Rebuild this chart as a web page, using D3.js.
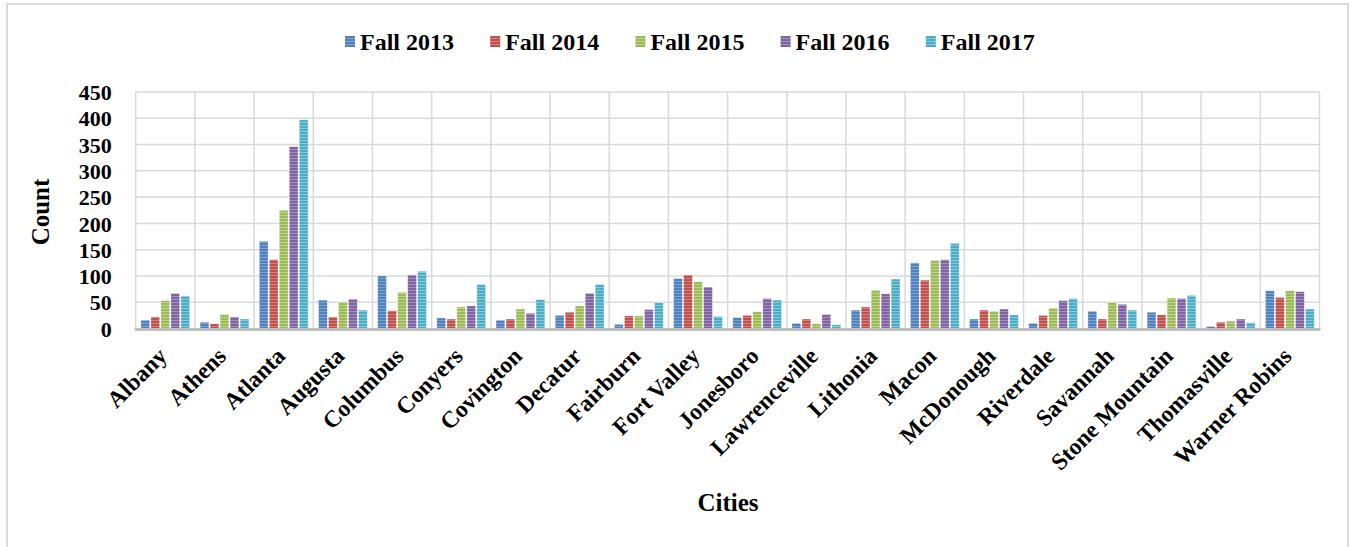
<!DOCTYPE html>
<html>
<head>
<meta charset="utf-8">
<script src="https://cdn.jsdelivr.net/npm/d3@7"></script>
<style>
  html, body { margin: 0; padding: 0; background: #fff; }
  svg { display: block; }
  text { font-family: "Liberation Serif", "Times New Roman", serif; font-weight: bold; fill: #000; }
</style>
</head>
<body>
<svg id="chart" width="1352" height="547"></svg>
<script>
const cities = ["Albany","Athens","Atlanta","Augusta","Columbus","Conyers","Covington","Decatur","Fairburn","Fort Valley","Jonesboro","Lawrenceville","Lithonia","Macon","McDonough","Riverdale","Savannah","Stone Mountain","Thomasville","Warner Robins"];
const seriesNames = ["Fall 2013","Fall 2014","Fall 2015","Fall 2016","Fall 2017"];
const fall2013 = [16,12,166,54,100,20,16,25,8,95,21,10,35,125,18,10,33,31,4,72];
const fall2014 = [22,9,131,22,34,18,18,31,24,102,25,18,41,92,35,25,18,26,12,59];
const fall2015 = [53,27,225,50,69,41,37,43,24,89,32,9,73,130,33,39,50,58,14,72];
const fall2016 = [67,22,346,56,102,43,29,67,36,79,57,27,66,131,37,53,46,57,18,70];
const fall2017 = [62,18,397,35,109,84,55,84,49,23,54,7,94,162,26,57,35,63,11,37];
const seriesValues = [fall2013, fall2014, fall2015, fall2016, fall2017];
const colors = ["#4F81BD","#C0504D","#9BBB59","#8064A2","#4BACC6"];
const stripeColors = ["#7fa3d3","#d6817f","#bcd58b","#a48fc0","#86c9da"];
const yTicks = [0,50,100,150,200,250,300,350,400,450];

(function () {
const svg = d3.select("#chart");

// outer border
svg.append("rect").attr("x", 7).attr("y", 4).attr("width", 1341).attr("height", 560)
  .attr("fill", "none").attr("stroke", "#d9d9d9").attr("stroke-width", 2);

// patterns
const defs = svg.append("defs");
colors.forEach((c, i) => {
  const p = defs.append("pattern").attr("id", "pat" + i)
    .attr("patternUnits", "userSpaceOnUse").attr("width", 6).attr("height", 3);
  p.append("rect").attr("width", 6).attr("height", 3).attr("fill", c);
  p.append("rect").attr("y", 2).attr("width", 6).attr("height", 1).attr("fill", stripeColors[i]);
});

const pLeft = 135.7, pRight = 1319.5, pTop = 92, pBottom = 328.5;
const x = d3.scaleBand().domain(cities).range([pLeft, pRight]).paddingInner(0).paddingOuter(0);
const xs = d3.scaleBand().domain(seriesNames).range([5.2, 54]).paddingInner(0.12).paddingOuter(0);
const y = d3.scaleLinear().domain([0, 450]).range([pBottom, pTop]);

const grid = svg.append("g");
grid.selectAll("line.h").data(yTicks.filter(d => d > 0)).enter().append("line")
  .attr("x1", pLeft).attr("x2", pRight).attr("y1", d => y(d)).attr("y2", d => y(d))
  .attr("stroke", "#d9d9d9").attr("stroke-width", 1.5);
const vEdges = cities.map(c => x(c)).concat([pRight]);
grid.selectAll("line.v").data(vEdges).enter().append("line")
  .attr("x1", d => d).attr("x2", d => d).attr("y1", pTop).attr("y2", pBottom)
  .attr("stroke", "#d9d9d9").attr("stroke-width", 1.5);

// bars
const groups = svg.append("g").selectAll("g").data(cities).enter().append("g")
  .attr("transform", d => `translate(${x(d)},0)`);
groups.selectAll("rect").data((c, ci) => seriesNames.map((s, si) => ({ s, si, v: seriesValues[si][ci] })))
  .enter().append("rect")
  .attr("x", d => xs(d.s)).attr("width", xs.bandwidth())
  .attr("y", d => y(d.v)).attr("height", d => pBottom - y(d.v))
  .attr("fill", d => `url(#pat${d.si})`)
  .attr("stroke", "#ffffff").attr("stroke-opacity", 0.5).attr("stroke-width", 0.6);

// bottom axis line
svg.append("line").attr("x1", pLeft - 1).attr("x2", pRight + 1).attr("y1", pBottom + 1).attr("y2", pBottom + 1)
  .attr("stroke", "#bfbfbf").attr("stroke-width", 3);

// y axis labels
const yAxis = d3.axisLeft(y).tickValues(yTicks).tickSize(0).tickPadding(24);
const yg = svg.append("g").attr("transform", `translate(${pLeft},0)`).call(yAxis);
yg.select(".domain").remove();
yg.selectAll("text").style("font-size", "22px").style("font-family", "Liberation Serif, serif")
  .style("font-weight", "bold").attr("fill", "#000").attr("dy", "0.35em");

// x axis labels
const xAxis = d3.axisBottom(x).tickSize(0).tickPadding(0);
const xg = svg.append("g").attr("transform", `translate(0,${pBottom})`).call(xAxis);
xg.select(".domain").remove();
xg.selectAll("text")
  .style("font-size", "23.5px").style("font-family", "Liberation Serif, serif").style("font-weight", "bold")
  .attr("fill", "#000")
  .attr("text-anchor", "end")
  .attr("dy", null)
  .attr("y", 0)
  .attr("transform", "translate(3,29) rotate(-45)");

// axis titles
svg.append("text").attr("transform", "translate(49,212) rotate(-90)")
  .attr("text-anchor", "middle").style("font-size", "25px").text("Count");
svg.append("text").attr("x", 728).attr("y", 511)
  .attr("text-anchor", "middle").style("font-size", "25px").text("Cities");

// legend
const legend = svg.append("g");
seriesNames.forEach((s, i) => {
  const lx = 345 + i * 145.2;
  legend.append("rect").attr("x", lx).attr("y", 36).attr("width", 10).attr("height", 11)
    .attr("fill", `url(#pat${i})`);
  legend.append("text").attr("x", lx + 15).attr("y", 49.5).style("font-size", "24px").text(s);
});
})();
</script>
</body>
</html>
